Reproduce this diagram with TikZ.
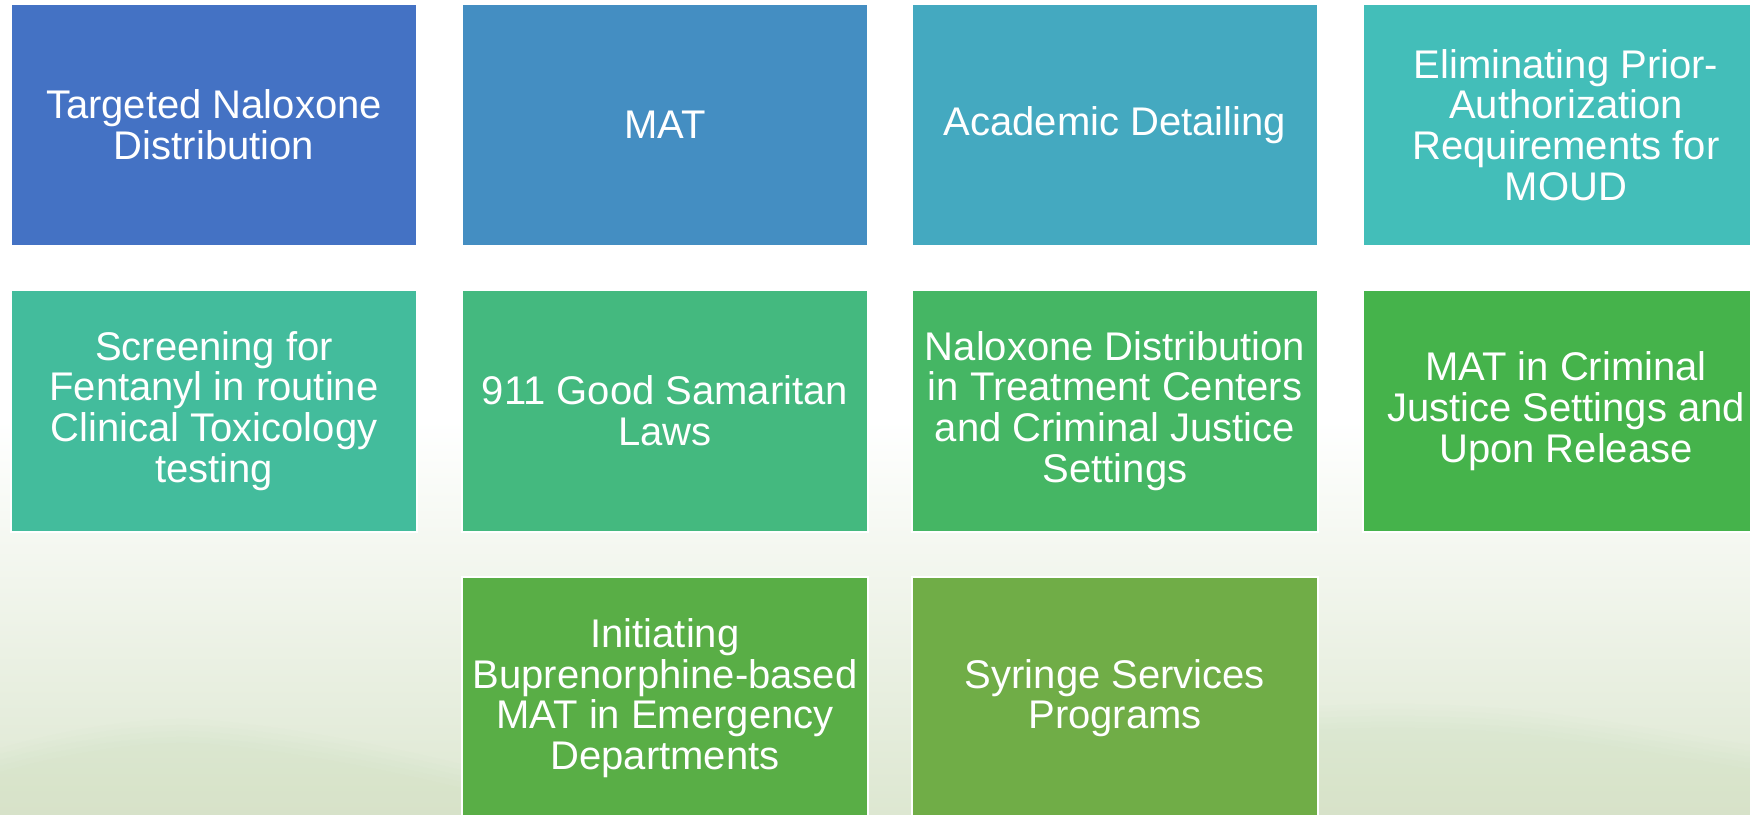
\documentclass[tikz,border=0pt]{standalone}
\usepackage{fontspec}
\setmainfont{Liberation Sans}
\begin{document}
% tile colours: a hue sweep from blue to green
\definecolor{tileA}{HTML}{4472C4}
\definecolor{tileB}{HTML}{448EC2}
\definecolor{tileC}{HTML}{44A9C0}
\definecolor{tileD}{HTML}{43BEB9}
\definecolor{tileE}{HTML}{43BC9C}
\definecolor{tileF}{HTML}{44B97F}
\definecolor{tileG}{HTML}{45B664}
\definecolor{tileH}{HTML}{45B34B}
\definecolor{tileI}{HTML}{59AE46}
\definecolor{tileJ}{HTML}{70AD47}
\definecolor{bgbottom}{HTML}{DDE7D1}
\definecolor{hillcol}{HTML}{A9BE98}
\begin{tikzpicture}[x=1bp,y=-1bp,
  tile/.style={rectangle, anchor=north west, draw=white, line width=2bp,
    minimum width=406bp, minimum height=242bp, inner sep=0pt,
    text=white, align=center,
    font=\fontsize{40bp}{40.7bp}\selectfont}]
\useasboundingbox (0,0) rectangle (1750,815);
\clip (0,0) rectangle (1750,815);

% backdrop: white fading into pale sage, with soft hazy hills
\fill[white] (0,0) rectangle (1750,815);
\shade[top color=white, bottom color=bgbottom] (0,420) rectangle (1750,815);
\foreach \dy in {0,6,12,18,24} {
  \fill[hillcol, opacity=0.018, yshift=-\dy bp] (0,748) .. controls (70,728) and (150,715) .. (210,720)
    .. controls (300,728) and (420,750) .. (560,790) -- (600,840) -- (0,840) -- cycle;
  \fill[hillcol, opacity=0.018, yshift=-\dy bp] (1200,720) .. controls (1300,700) and (1440,700) .. (1540,712)
    .. controls (1620,722) and (1690,735) .. (1750,745) -- (1750,840) -- (1200,840) -- cycle;
}

% row 1
\node[tile, fill=tileA] (naloxone) at (10,3) {Targeted Naloxone\\Distribution};
\node[tile, fill=tileB] (mat) at (461,3) {MAT};
\node[tile, fill=tileC] (detailing) at (911,3) {Academic Detailing};
\node[tile, fill=tileD] (priorauth) at (1362,3) {Eliminating Prior-\\Authorization\\Requirements for\\MOUD};

% row 2
\node[tile, fill=tileE] (fentanyl) at (10,289) {Screening for\\Fentanyl in routine\\Clinical Toxicology\\testing};
\node[tile, fill=tileF] (samaritan) at (461,289) {911 Good Samaritan\\Laws};
\node[tile, fill=tileG] (treatment) at (911,289) {Naloxone Distribution\\in Treatment Centers\\and Criminal Justice\\Settings};
\node[tile, fill=tileH] (justice) at (1362,289) {MAT in Criminal\\Justice Settings and\\Upon Release};

% row 3
\node[tile, fill=tileI] (emergency) at (461,576) {Initiating\\Buprenorphine-based\\MAT in Emergency\\Departments};
\node[tile, fill=tileJ] (syringe) at (911,576) {Syringe Services\\Programs};
\end{tikzpicture}
\end{document}
